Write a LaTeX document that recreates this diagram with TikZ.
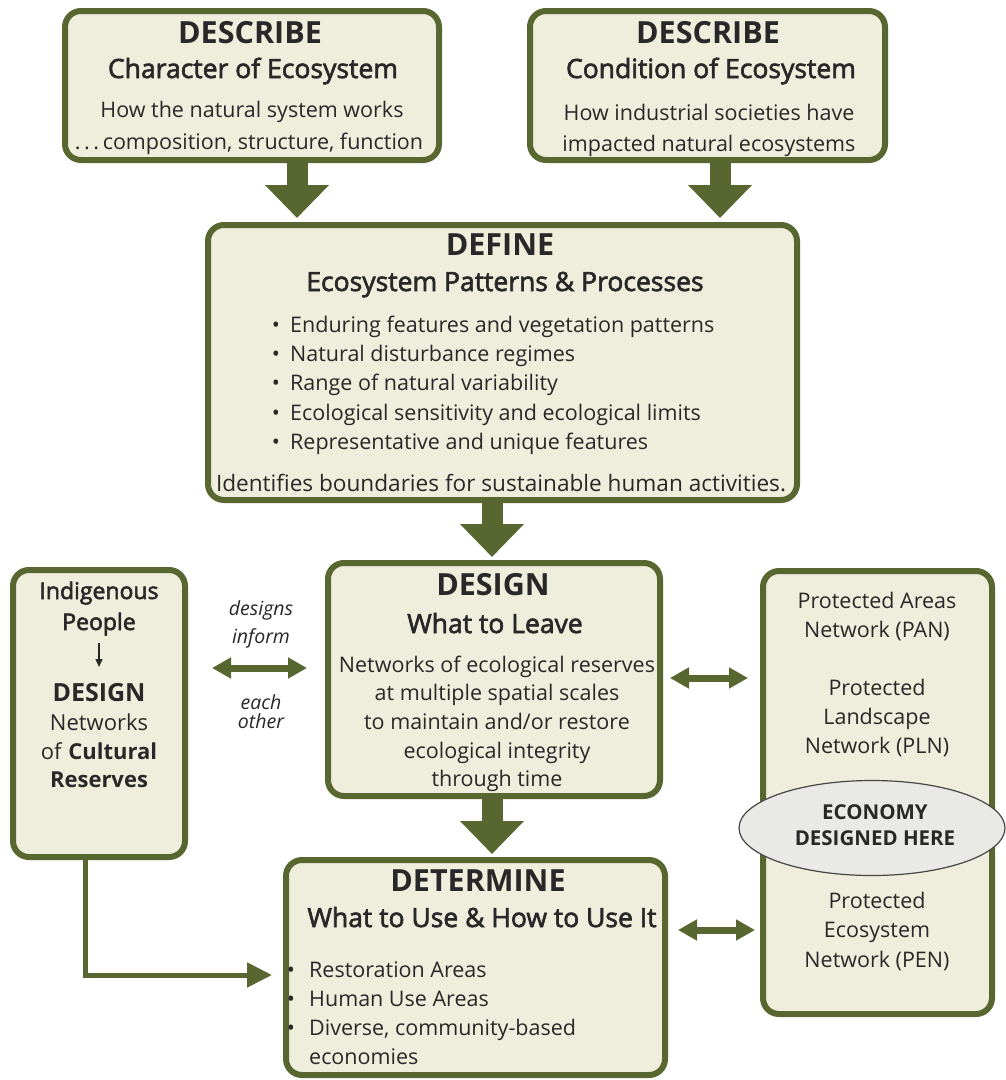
\documentclass[tikz,border=0pt]{standalone}
\usepackage{fontspec}
\setmainfont{Open Sans}
\newfontfamily\semib[FakeBold=2.4]{Open Sans}
\usetikzlibrary{arrows.meta,shapes.geometric,calc}
\definecolor{ecogreen}{RGB}{88,103,48}
\definecolor{boxfill}{RGB}{239,237,220}
\definecolor{ink}{RGB}{40,40,40}
\definecolor{ellfill}{RGB}{233,233,229}
\definecolor{elldraw}{RGB}{70,70,70}
\begin{document}
\begin{tikzpicture}[x=1pt,y=-1pt,
  box/.style={draw=ecogreen, line width=6pt, fill=boxfill, rounded corners=16pt, inner sep=0pt},
  txt/.style={inner sep=0pt, text=ink, anchor=base},
  ttl/.style={txt, font=\fontsize{30.5}{34}\selectfont\bfseries},
  sub/.style={txt, font=\fontsize{26.5}{30}\semib},
  body/.style={txt, font=\fontsize{21.5}{24}\selectfont},
  bodyl/.style={body, anchor=base west},
  fbody/.style={txt, font=\fontsize{22}{26}\selectfont},
  note/.style={txt, font=\fontsize{19.5}{22}\selectfont\itshape},
  ecotxt/.style={txt, font=\fontsize{20.5}{22}\selectfont\bfseries},
  bigarrow/.style={draw=ecogreen, line width=21pt, -{Triangle[width=62pt,length=33pt]}},
  dblarrow/.style={draw=ecogreen, line width=7pt, {Triangle[width=20pt,length=19pt]}-{Triangle[width=20pt,length=19pt]}},
  lconn/.style={draw=ecogreen, line width=5pt, -{Triangle[width=24pt,length=25pt]}}
]
\useasboundingbox (0,0) rectangle (1006,1080);
\fill[white] (0,0) rectangle (1006,1080);

% boxes
\node[box, minimum width=374pt, minimum height=149pt] (boxA) at (252,85.5) {};
\node[box, minimum width=355pt, minimum height=149pt] (boxB) at (707.5,85.5) {};
\node[box, minimum width=589pt, minimum height=275pt] (boxC) at (502.5,362.5) {};
\node[box, minimum width=332pt, minimum height=233pt] (boxD) at (494,679.5) {};
\node[box, minimum width=379pt, minimum height=215pt] (boxE) at (475.5,967.5) {};
\node[box, minimum width=172pt, minimum height=287pt] (boxF) at (99,713.5) {};
\node[box, minimum width=229pt, minimum height=443pt] (boxG) at (877.5,792.5) {};

% box A text
\node[ttl] (a1) at (250,43) {DESCRIBE};
\node[sub] (a2) at (253,78) {Character of Ecosystem};
\node[body] (a3) at (252,117) {How the natural system works};
\node[body] (a4) at (249,149) {.\,.\,.\,composition, structure, function};

% box B text
\node[ttl] (b1) at (708,43) {DESCRIBE};
\node[sub] (b2) at (711,78) {Condition of Ecosystem};
\node[body] (b3) at (709,120) {How industrial societies have};
\node[body] (b4) at (709,151) {impacted natural ecosystems};

% box C text
\node[ttl] (c1) at (500,255) {DEFINE};
\node[sub] (c2) at (505,291) {Ecosystem Patterns \& Processes};
\foreach \n/\yy/\t in {1/332/{Enduring features and vegetation patterns},
                       2/361/{Natural disturbance regimes},
                       3/390/{Range of natural variability},
                       4/420/{Ecological sensitivity and ecological limits},
                       5/449/{Representative and unique features}}{
  \node[body] (cb\n) at (276,\yy) {\textbullet};
  \node[bodyl] (ct\n) at (290,\yy) {\t};
}
\node[body, font=\fontsize{22.6}{26}\selectfont] (c3) at (501,491) {Identifies boundaries for sustainable human activities.};

% box D text
\node[ttl] (d1) at (493,595) {DESIGN};
\node[sub] (d2) at (495,633) {What to Leave};
\node[body] (d3) at (497,672) {Networks of ecological reserves};
\node[body] (d4) at (497,700) {at multiple spatial scales};
\node[body] (d5) at (497,729) {to maintain and/or restore};
\node[body] (d6) at (497,758) {ecological integrity};
\node[body] (d7) at (497,786) {through time};

% box E text
\node[ttl] (e1) at (478,891) {DETERMINE};
\node[sub] (e2) at (482,927) {What to Use \& How to Use It};
\foreach \n/\yy/\t in {1/977/{Restoration Areas},
                       2/1006/{Human Use Areas},
                       3/1035/{Diverse, community-based}}{
  \node[body] (eb\n) at (291,\yy) {\textbullet};
  \node[bodyl] (et\n) at (309,\yy) {\t};
}
\node[bodyl] (et4) at (309,1064) {economies};

% box F text
\node[txt, font=\fontsize{23}{26}\semib] (f1) at (99,599) {Indigenous};
\node[txt, font=\fontsize{23}{26}\semib] (f2) at (99,630) {People};
\node[txt, font=\fontsize{25}{30}\selectfont\bfseries] (f3) at (99,701) {DESIGN};
\node[fbody] (f4) at (99,730) {Networks};
\node[fbody] (f5) at (99,759) {of \textbf{Cultural}};
\node[fbody, font=\fontsize{22}{26}\selectfont\bfseries] (f6) at (99,787) {Reserves};
\coordinate (fa) at (99,643);
\coordinate (fb) at (99,667);
\draw[ink, line width=1.3pt, -{Triangle[width=7pt,length=8pt]}] (fa) -- (fb);

% box G text
\node[body] (g1) at (877,608) {Protected Areas};
\node[body] (g2) at (877,637) {Network (PAN)};
\node[body] (g3) at (877,695) {Protected};
\node[body] (g4) at (877,724) {Landscape};
\node[body] (g5) at (877,753) {Network (PLN)};
\node[body] (g6) at (877,908) {Protected};
\node[body] (g7) at (877,937) {Ecosystem};
\node[body] (g8) at (877,967) {Network (PEN)};

% ellipse
\node[ellipse, draw=elldraw, line width=1.2pt, fill=ellfill, minimum width=266pt, minimum height=95pt, inner sep=0pt] (ell) at (872,828) {};
\node[ecotxt] (h1) at (875,819) {ECONOMY};
\node[ecotxt] (h2) at (875,845) {DESIGNED HERE};

% italic notes
\node[note] (n1) at (261,615) {designs};
\node[note] (n2) at (261,643) {inform};
\node[note] (n3) at (261,709) {each};
\node[note] (n4) at (261,728) {other};

% block arrows
\coordinate (xA) at (297,0);
\coordinate (xB) at (720,0);
\coordinate (xC) at (492,0);
\draw[bigarrow, shorten >=4pt] (boxA.south -| xA) -- (boxC.north -| xA);
\draw[bigarrow, shorten >=4pt] (boxB.south -| xB) -- (boxC.north -| xB);
\draw[bigarrow, shorten >=3pt] (boxC.south -| xC) -- (boxD.north -| xC);
\draw[bigarrow, shorten >=3pt] (boxD.south -| xC) -- (boxE.north -| xC);

% double arrows
\coordinate (y1) at (0,668);
\coordinate (y2) at (0,678);
\coordinate (y3) at (0,930);
\draw[dblarrow, shorten <=24pt, shorten >=18pt] (boxF.east |- y1) -- (boxD.west |- y1);
\draw[dblarrow, shorten <=7pt, shorten >=12pt] (boxD.east |- y2) -- (boxG.west |- y2);
\draw[dblarrow, shorten <=10pt, shorten >=5pt] (boxE.east |- y3) -- (boxG.west |- y3);

% L connector
\coordinate (lx) at (85,0);
\coordinate (ly) at (0,975);
\draw[lconn, shorten >=11pt] (boxF.south -| lx) |- (boxE.west |- ly);
\end{tikzpicture}
\end{document}
